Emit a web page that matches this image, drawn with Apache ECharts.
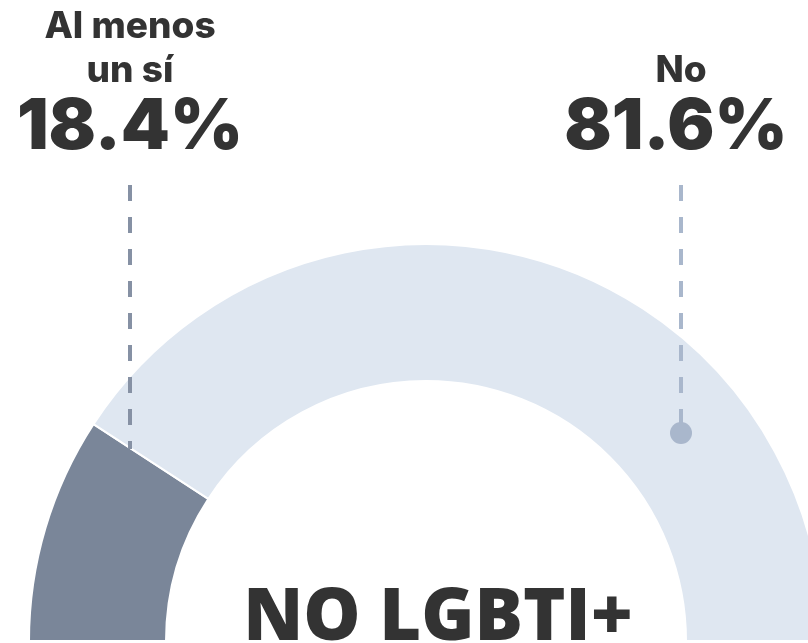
<!DOCTYPE html>
<html>
<head>
<meta charset="utf-8">
<script src="https://cdn.jsdelivr.net/npm/echarts@6/dist/echarts.min.js"></script>
<style>
html,body{margin:0;padding:0;background:#fff;}
#c{width:808px;height:643px;}
</style>
</head>
<body>
<div id="c"></div>
<script>
const categories = ['Al menos\nun sí', 'No'];
const values = [18.4, 81.6];
const title = 'NO LGBTI+';

const sliceColors = ['#7a8699', '#dfe7f1'];
const leaderColors = ['#8691a4', '#a9b7cc'];

const chart = echarts.init(document.getElementById('c'));
const total = values.reduce((a, b) => a + b, 0);

const data = values.map((v, i) => ({
  name: categories[i],
  value: v,
  itemStyle: { color: sliceColors[i] }
}));
data.push({ name: '', value: total, itemStyle: { color: 'rgba(0,0,0,0)', borderWidth: 0 } });

const nameFont = { fontFamily: 'Inter', fontWeight: 800, fontSize: 37, fill: '#333', align: 'center', verticalAlign: 'middle' };
const valFont = { fontFamily: 'Inter', fontWeight: 900, fontSize: 70, fill: '#333', align: 'center', verticalAlign: 'middle' };

const labelX = [130, 676];
const nameX = [130, 681];
const nameY = [[27, 71], [71]];
const valY = 128;
const lineX = [130, 681];
const lineEnd = [449, 433];

const graphic = [];
categories.forEach((c, i) => {
  c.split('\n').forEach((t, j) => {
    graphic.push({ type: 'text', x: nameX[i], y: nameY[i][j], z: 10, style: Object.assign({ text: t }, nameFont) });
  });
  graphic.push({ type: 'text', x: labelX[i], y: valY, z: 10, style: Object.assign({ text: values[i].toFixed(1) + '%' }, valFont) });
  graphic.push({ type: 'line', z: 10, shape: { x1: lineX[i], y1: 185, x2: lineX[i], y2: lineEnd[i] }, style: { stroke: leaderColors[i], lineWidth: 4, lineDash: [16, 16] } });
});
graphic.push({ type: 'circle', z: 10, shape: { cx: 681, cy: 433, r: 11 }, style: { fill: '#a9b7cc' } });
graphic.push({ type: 'text', x: 438, y: 655, z: 10, style: { text: title, fontFamily: 'Open Sans', fontWeight: 800, fontSize: 72, fill: '#333', align: 'center', verticalAlign: 'bottom' } });

chart.setOption({
  animation: false,
  series: [{
    type: 'pie',
    center: [426, 641],
    radius: [260, 397],
    startAngle: 180,
    clockwise: true,
    silent: true,
    label: { show: false },
    labelLine: { show: false },
    itemStyle: { borderColor: '#fff', borderWidth: 2 },
    data: data
  }],
  graphic: graphic
});
</script>
</body>
</html>
